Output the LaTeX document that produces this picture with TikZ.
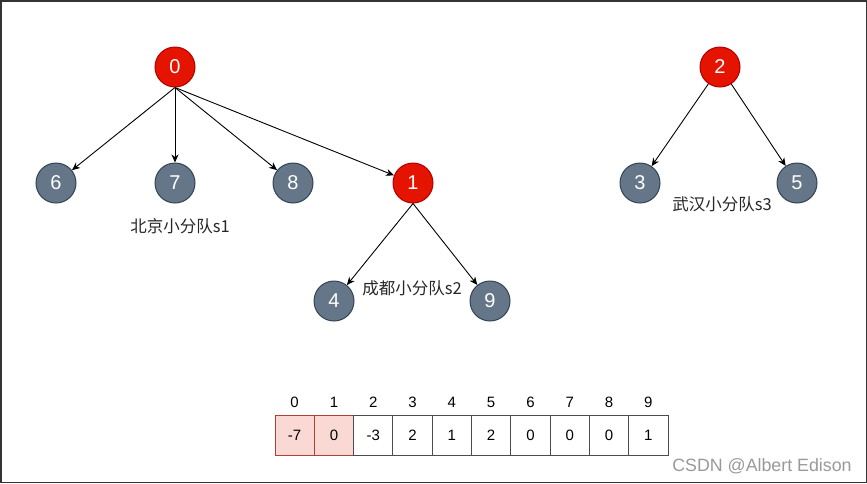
\documentclass[tikz,border=0pt]{standalone}
\usepackage{fontspec}
\setmainfont{Liberation Sans}
\newfontfamily\cjk{Noto Sans CJK SC}
\usetikzlibrary{arrows.meta}
\definecolor{redfill}{HTML}{E51400}
\definecolor{redline}{HTML}{B20000}
\definecolor{greyfill}{HTML}{647687}
\definecolor{greyline}{HTML}{314354}
\definecolor{pinkfill}{HTML}{FAD9D5}
\definecolor{pinkline}{HTML}{AE4132}
\tikzset{
  base/.style={circle, minimum size=40pt, inner sep=0pt, line width=1pt, text=white, font=\fontsize{20}{22}\selectfont},
  rednode/.style={base, fill=redfill, draw=redline},
  greynode/.style={base, fill=greyfill, draw=greyline},
  edge/.style={draw=black, line width=0.9pt, -{Stealth[length=8pt,width=7pt,inset=2.5pt]}},
  lbl/.style={font=\cjk\fontsize{16.5}{18}\selectfont, text=black!85, inner sep=0pt},
  cell/.style={draw=black!70, line width=1pt, minimum width=39.3pt, minimum height=39.5pt, inner sep=0pt, font=\fontsize{15}{17}\selectfont},
  pcell/.style={cell, fill=pinkfill, draw=pinkline},
  idx/.style={inner sep=0pt, font=\fontsize{15}{17}\selectfont}
}
\begin{document}
\begin{tikzpicture}[x=1pt,y=-1pt]
\useasboundingbox (0,0) rectangle (867,483);
\draw[line width=1.5pt, draw=black!80] (0.75,0.75) rectangle (866.25,482.25);
% nodes
\node[rednode] (n0) at (175,67) {0};
\node[greynode] (n6) at (56,183) {6};
\node[greynode] (n7) at (175,183) {7};
\node[greynode] (n8) at (293,183) {8};
\node[rednode] (n1) at (413,183) {1};
\node[greynode] (n4) at (334,301) {4};
\node[greynode] (n9) at (490,301) {9};
\node[rednode] (n2) at (720,67) {2};
\node[greynode] (n3) at (640,183) {3};
\node[greynode] (n5) at (797,183) {5};
% edges
\draw[edge] (n0.south) -- (n6);
\draw[edge] (n0.south) -- (n7);
\draw[edge] (n0.south) -- (n8);
\draw[edge] (n0.south) -- (n1);
\draw[edge] (n1.south) -- (n4);
\draw[edge] (n1.south) -- (n9);
\draw[edge] (n2) -- (n3);
\draw[edge] (n2) -- (n5);
% labels
\node[lbl] (l1) at (180,226) {北京小分队s1};
\node[lbl] (l2) at (412,288) {成都小分队s2};
\node[lbl] (l3) at (722,204) {武汉小分队s3};
% array
\foreach \i/\v in {0/-7,1/0} {
  \node[pcell] (c\i) at ({294.65+39.3*\i},435.25) {\v};
}
\foreach \i/\v in {2/-3,3/2,4/1,5/2,6/0,7/0,8/0,9/1} {
  \node[cell] (c\i) at ({294.65+39.3*\i},435.25) {\v};
}
\foreach \i in {0,...,9} {
  \node[idx] (x\i) at ({294.65+39.3*\i},402) {\i};
}
\node[inner sep=0pt, text=black!40, font=\fontsize{17.8}{19}\selectfont] (wm) at (762,466) {CSDN @Albert Edison};
\end{tikzpicture}
\end{document}
